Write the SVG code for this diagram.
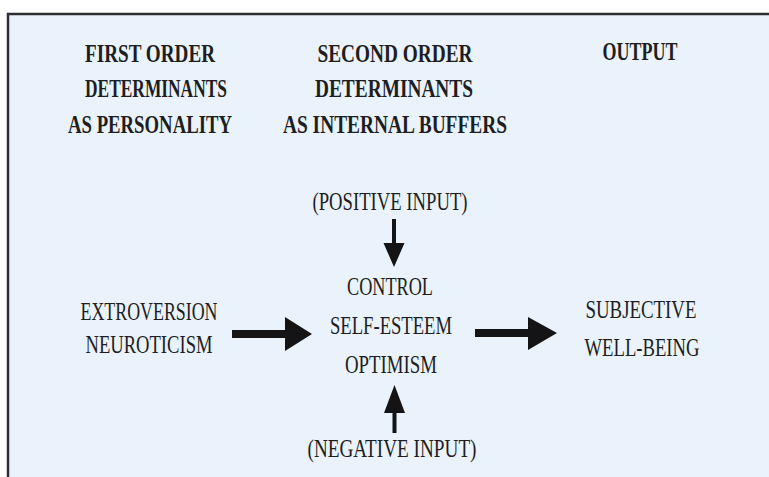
<svg xmlns="http://www.w3.org/2000/svg" width="769" height="477" viewBox="0 0 769 477">
<style>
text{font-family:"Liberation Serif","Times New Roman",serif;fill:#1e1e22;text-anchor:middle}
.h{font-weight:bold;font-size:25px}
.r{font-size:25px}
.arrow{fill:#141416}
</style>
<rect x="0" y="0" width="769" height="477" fill="#ffffff"/>
<rect x="8" y="14" width="770" height="470" fill="#eaf3fc" stroke="#2e2e32" stroke-width="2.5"/>
<g id="col1-heading">
<text class="h" x="150" y="62" textLength="130" lengthAdjust="spacingAndGlyphs">FIRST ORDER</text>
<text class="h" x="156" y="97" textLength="142" lengthAdjust="spacingAndGlyphs">DETERMINANTS</text>
<text class="h" x="150" y="133" textLength="164" lengthAdjust="spacingAndGlyphs">AS PERSONALITY</text>
</g>
<g id="col2-heading">
<text class="h" x="395" y="62" textLength="155" lengthAdjust="spacingAndGlyphs">SECOND ORDER</text>
<text class="h" x="394" y="97" textLength="158" lengthAdjust="spacingAndGlyphs">DETERMINANTS</text>
<text class="h" x="395" y="133" textLength="224" lengthAdjust="spacingAndGlyphs">AS INTERNAL BUFFERS</text>
</g>
<g id="col3-heading">
<text class="h" x="640" y="60" textLength="75" lengthAdjust="spacingAndGlyphs">OUTPUT</text>
</g>
<g id="positive-input">
<text class="r" x="390" y="210" textLength="155" lengthAdjust="spacingAndGlyphs">(POSITIVE INPUT)</text>
</g>
<g id="personality">
<text class="r" x="149" y="320" textLength="137" lengthAdjust="spacingAndGlyphs">EXTROVERSION</text>
<text class="r" x="149" y="353" textLength="127" lengthAdjust="spacingAndGlyphs">NEUROTICISM</text>
</g>
<g id="buffers">
<text class="r" x="390" y="295" textLength="86" lengthAdjust="spacingAndGlyphs">CONTROL</text>
<text class="r" x="391" y="334" textLength="122" lengthAdjust="spacingAndGlyphs">SELF-ESTEEM</text>
<text class="r" x="391" y="373" textLength="92" lengthAdjust="spacingAndGlyphs">OPTIMISM</text>
</g>
<g id="output">
<text class="r" x="641" y="318" textLength="111" lengthAdjust="spacingAndGlyphs">SUBJECTIVE</text>
<text class="r" x="642" y="356" textLength="115" lengthAdjust="spacingAndGlyphs">WELL-BEING</text>
</g>
<g id="negative-input">
<text class="r" x="392" y="457" textLength="169" lengthAdjust="spacingAndGlyphs">(NEGATIVE INPUT)</text>
</g>
<g id="connectors">
<polygon class="arrow" points="232,330 285,330 285,317 312,334 285,351 285,338 232,338"/>
<polygon class="arrow" points="475,329 528,329 528,317 557,333 528,350 528,337 475,337"/>
<polygon class="arrow" points="392,219 396,219 396,243 404.5,243 394,267 383.5,243 392,243"/>
<polygon class="arrow" points="394.5,385 405,413 396.5,413 396.5,433 392.5,433 392.5,413 384,413"/>
</g>
</svg>
